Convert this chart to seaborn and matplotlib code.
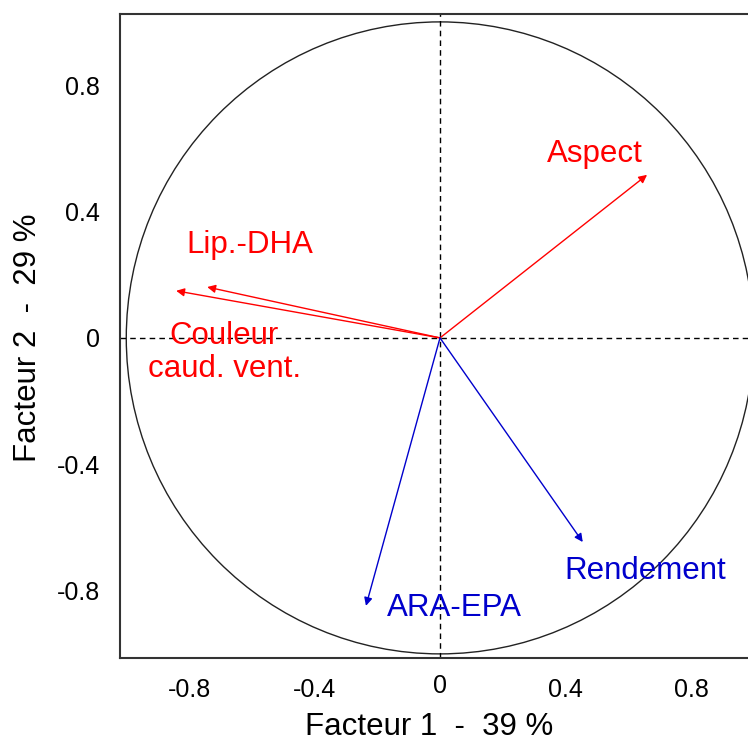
import numpy as np
import matplotlib
matplotlib.use('Agg')
import matplotlib.pyplot as plt
from matplotlib.patches import Circle
from matplotlib.transforms import ScaledTranslation
import seaborn as sns

# variable loadings on the first two factors
variables = ['Aspect', 'Lip.-DHA', 'Couleur\ncaud. vent.', 'Rendement', 'ARA-EPA']
factor1 = [0.66, -0.742, -0.841, 0.455, -0.236]
factor2 = [0.516, 0.161, 0.149, -0.646, -0.848]
colors = ['#ff0000', '#ff0000', '#ff0000', '#0000cc', '#0000cc']
# where each label sits (baseline of last line, centered)
label_x = [0.494, -0.605, -0.688, 0.654, 0.045]
label_y = [0.557, 0.269, -0.123, -0.763, -0.88]

ticks = [-0.8, -0.4, 0, 0.4, 0.8]
tick_labels = ['-0.8', '-0.4', '0', '0.4', '0.8']

sns.set_style('white')
plt.rcParams['font.family'] = ['Liberation Sans', 'DejaVu Sans']

fig = plt.figure(figsize=(7.48, 7.44), dpi=100)
ax = fig.add_axes([120 / 748, 86 / 744, 640 / 748, 644 / 744])
ax.set_xlim(-1.02, 1.02)
ax.set_ylim(-1.013, 1.025)

# correlation circle and reference lines
ax.add_patch(Circle((0, 0), 1, fill=False, edgecolor='#222222', lw=1.0))
ax.axhline(0, color='black', lw=1.0, ls=(0, (4, 3)))
ax.axvline(0, color='black', lw=1.0, ls=(0, (4, 3)))

for x, y, c in zip(factor1, factor2, colors):
    ax.annotate('', xy=(x, y), xytext=(0, 0),
                arrowprops=dict(arrowstyle='-|>', color=c, lw=1.0,
                                mutation_scale=12, shrinkA=0, shrinkB=0))

for name, lx, ly, c in zip(variables, label_x, label_y, colors):
    ax.text(lx, ly, name, color=c, fontsize=22.5, ha='center', va='baseline',
            multialignment='center', linespacing=1.1)

ax.set_xticks(ticks)
ax.set_xticklabels(tick_labels)
ax.set_yticks(ticks)
ax.set_yticklabels(tick_labels)
ax.tick_params(direction='inout', length=9, width=1.2, color='#333333',
               labelcolor='black', labelsize=18, pad=10)

# the "0" on the x axis sits a little higher in the original
zero_lab = ax.get_xticklabels()[2]
zero_lab.set_transform(zero_lab.get_transform() +
                       ScaledTranslation(0, 4 / 100, fig.dpi_scale_trans))

for side in ['left', 'bottom', 'top', 'right']:
    ax.spines[side].set_color('#333333')
    ax.spines[side].set_linewidth(1.5)

ax.set_xlabel('Facteur 1  -  39 %', fontsize=22.5, color='black')
ax.set_ylabel('Facteur 2  -  29 %', fontsize=22.5, color='black')
ax.xaxis.set_label_coords(0.483, -0.084, transform=ax.transAxes)
ax.yaxis.set_label_coords(-0.12, 0.497, transform=ax.transAxes)

fig.savefig('out.png', dpi=100)
